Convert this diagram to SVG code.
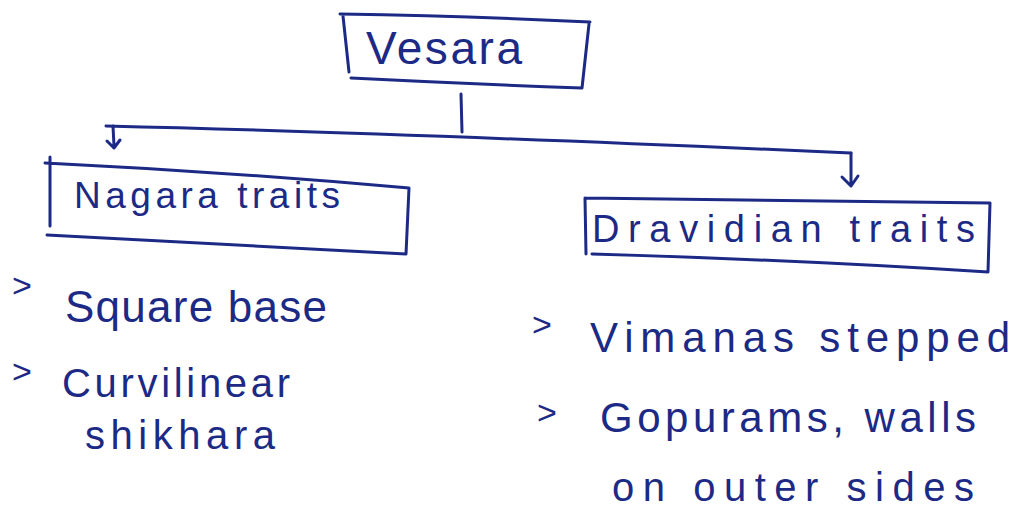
<svg xmlns="http://www.w3.org/2000/svg" width="1018" height="510" viewBox="0 0 1018 510">
<style>
.ink{fill:none;stroke:#1c2a86;stroke-width:3;stroke-linecap:round;stroke-linejoin:round}
.t{fill:#1c2a86;font-family:"Liberation Sans","DejaVu Sans",sans-serif;font-weight:normal}
.b{fill:#1c2a86;font-family:"Liberation Sans","DejaVu Sans",sans-serif;font-size:34px}
</style>
<rect width="1018" height="510" fill="#ffffff"/>
<g id="connectors">
<path class="ink" d="M461 94 L462 132"/>
<path class="ink" d="M106 126 Q400 133 851 153"/>
<path class="ink" d="M113 126 L114 146 M107 141 L114 148 L120 140"/>
<path class="ink" d="M851 153 L851 184 M842 177 L851 186 L858 176"/>
</g>
<g id="vesara">
<path class="ink" d="M340 14 Q470 16 590 22 M343 16 L349 72 M351 78 Q470 84 582 88 L589 24"/>
<text class="t" x="366" y="64" font-size="46" textLength="156" lengthAdjust="spacing">Vesara</text>
</g>
<g id="nagara">
<path class="ink" d="M45 163 Q230 172 409 188 L406 254 Q240 246 47 235 M50 157 L50 226"/>
<text class="t" x="74" y="208" font-size="37" textLength="266" lengthAdjust="spacing">Nagara traits</text>
</g>
<g id="dravidian">
<path class="ink" d="M585 198 Q790 200 990 203 L988 272 Q800 260 592 254 M585 198 L586 254"/>
<text class="t" x="592" y="242" font-size="38" textLength="383" lengthAdjust="spacing">Dravidian traits</text>
</g>
<g id="nagara-items">
<text class="b" x="12" y="297">&gt;</text>
<text class="t" x="65" y="322" font-size="44" textLength="262" lengthAdjust="spacing">Square base</text>
<text class="b" x="12" y="383">&gt;</text>
<text class="t" x="62" y="397" font-size="40" textLength="228" lengthAdjust="spacing">Curvilinear</text>
<text class="t" x="85" y="449" font-size="40" textLength="190" lengthAdjust="spacing">shikhara</text>
</g>
<g id="dravidian-items">
<text class="b" x="532" y="336">&gt;</text>
<text class="t" x="590" y="352" font-size="42" textLength="420" lengthAdjust="spacing">Vimanas stepped</text>
<text class="b" x="537" y="424">&gt;</text>
<text class="t" x="600" y="432" font-size="42" textLength="376" lengthAdjust="spacing">Gopurams, walls</text>
<text class="t" x="612" y="501" font-size="40" textLength="362" lengthAdjust="spacing">on outer sides</text>
</g>
</svg>
